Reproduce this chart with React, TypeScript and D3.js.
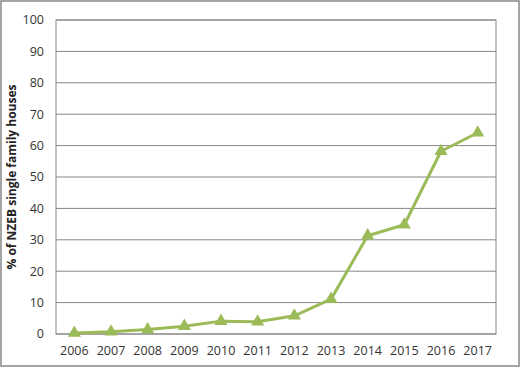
import React from 'react';
import * as d3 from 'd3';

// data
const years = ['2006', '2007', '2008', '2009', '2010', '2011', '2012', '2013', '2014', '2015', '2016', '2017'];
const shares = [0.3, 0.7, 1.4, 2.5, 4.1, 3.9, 5.8, 11.1, 31.3, 34.8, 58.2, 64.1];
const yTicks = [0, 10, 20, 30, 40, 50, 60, 70, 80, 90, 100];

const W = 521, H = 368;
const margin = { top: 20, right: 25, bottom: 34, left: 56 };

const App = () => {
  const x = d3.scaleBand().domain(years).range([margin.left, W - margin.right]);
  const y = d3.scaleLinear().domain([0, 100]).range([H - margin.bottom, margin.top]);
  const line = d3.line<number>()
    .x((d, i) => x(years[i])! + x.bandwidth() / 2)
    .y(d => y(d));
  const tri = d3.symbol().type(d3.symbolTriangle).size(75)();
  const font = '"Open Sans", "Liberation Sans", sans-serif';

  return (
    <svg width={W} height={H} style={{ position: 'absolute', left: 0, top: 0 }}>
      <rect x={1} y={1} width={W - 3} height={H - 3} fill="#fff" stroke="#868686" strokeWidth={1.5} />
      {yTicks.map(t => (
        <g key={t}>
          <line x1={margin.left} x2={W - margin.right} y1={y(t)} y2={y(t)} stroke="#868686" strokeWidth={1} />
          <text x={margin.left - 12} y={y(t)} dy="0.35em" textAnchor="end" fontSize={12.5} fontFamily={font} fill="#333">{t}</text>
        </g>
      ))}
      <rect x={margin.left} y={margin.top} width={W - margin.right - margin.left} height={H - margin.bottom - margin.top}
        fill="none" stroke="#868686" strokeWidth={1} />
      {years.map(yr => (
        <text key={yr} x={x(yr)! + x.bandwidth() / 2} y={351} dy="0.35em" textAnchor="middle" fontSize={12.5} fontFamily={font} fill="#333">{yr}</text>
      ))}
      <text transform={`translate(16,${(margin.top + H - margin.bottom) / 2}) rotate(-90)`} textAnchor="middle"
        fontSize={12} fontWeight="bold" fontFamily={font} fill="#222">% of NZEB single family houses</text>
      <path d={line(shares)!} fill="none" stroke="#9BBB59" strokeWidth={3} strokeLinejoin="round" />
      {shares.map((v, i) => (
        <path key={i} d={tri!} transform={`translate(${x(years[i])! + x.bandwidth() / 2},${y(v)})`} fill="#9BBB59" />
      ))}
    </svg>
  );
};

export default App;
